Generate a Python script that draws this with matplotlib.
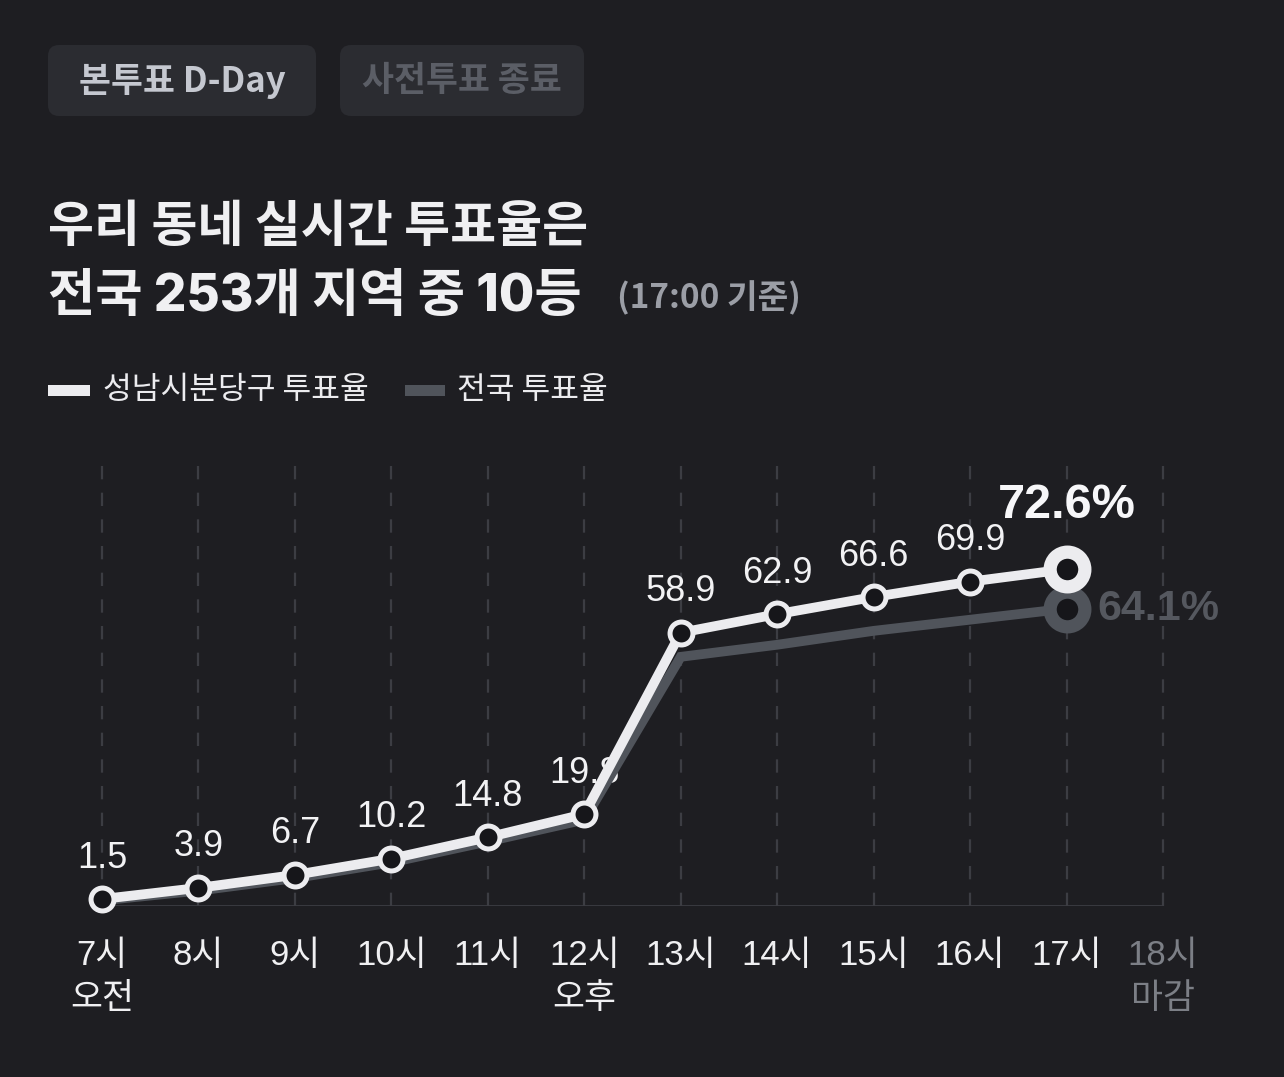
import matplotlib
matplotlib.use("Agg")
import matplotlib.pyplot as plt
import matplotlib.patches as mpatches
from matplotlib.transforms import IdentityTransform

# data
hours = ["7시\n오전", "8시", "9시", "10시", "11시", "12시\n오후", "13시", "14시", "15시", "16시", "17시", "18시\n마감"]
local_rate = [1.5, 3.9, 6.7, 10.2, 14.8, 19.8, 58.9, 62.9, 66.6, 69.9, 72.6]
national_rate = [1.2, 3.3, 6.0, 9.4, 13.9, 18.6, 53.7, 56.3, 59.3, 61.7, 64.1]
local_name = "성남시분당구 투표율"
national_name = "전국 투표율"

BG = "#1e1e22"
BTN = "#2b2c31"
WHITE = "#ececef"
GRAY = "#50545b"
GRID = "#3c3d43"
LAT = ["Liberation Sans", "Noto Sans CJK KR"]
KR = ["Noto Sans CJK KR", "DejaVu Sans"]

W, H = 1284, 1077
fig = plt.figure(figsize=(W / 100, H / 100), dpi=100, facecolor=BG)


def fy(py):
    return 1 - py / H


# buttons on top
for x0, x1, txt, col in [(48, 316, "본투표 D-Day", "#c5c8d0"), (340, 584, "사전투표 종료", "#5b5e66")]:
    box = mpatches.FancyBboxPatch((x0, H - 116), x1 - x0, 71, boxstyle="round,pad=0,rounding_size=11",
                                  transform=IdentityTransform(), facecolor=BTN, edgecolor="none")
    fig.add_artist(box)
    fig.text((x0 + x1) / 2 / W, fy(81), txt, ha="center", va="center", fontsize=25,
             weight="bold", color=col, family=KR)

# title
fig.text(48 / W, fy(227), "우리 동네 실시간 투표율은", ha="left", va="center", fontsize=36,
         weight="bold", color="#f0f0f2", family=KR)
fig.text(48 / W, fy(298), "전국 253개 지역 중 10등", ha="left", va="center", fontsize=37,
         weight="heavy", color="#f0f0f2", family=["Inter", "Noto Sans CJK KR"])
fig.text(617 / W, fy(298), "(17:00 기준)", ha="left", va="center", fontsize=24,
         weight="bold", color="#9b9ea6", family=KR)

# legend
fig.add_artist(mpatches.Rectangle((48, H - 396), 42, 11, transform=IdentityTransform(),
                                  facecolor=WHITE, edgecolor="none"))
fig.text(103 / W, fy(390), local_name, ha="left", va="center", fontsize=22.5, color="#ececef", family=KR)
fig.add_artist(mpatches.Rectangle((405, H - 396), 40, 11, transform=IdentityTransform(),
                                  facecolor=GRAY, edgecolor="none"))
fig.text(457 / W, fy(390), national_name, ha="left", va="center", fontsize=22.5, color="#ececef", family=KR)

# chart
ax = fig.add_axes([102 / W, fy(906), (1163 - 102) / W, (906 - 463) / H])
ax.set_facecolor(BG)
top = 443 / 4.64
ax.set_xlim(0, 11)
ax.set_ylim(0, top)
for s in ax.spines.values():
    s.set_visible(False)
ax.set_yticks([])

xs = list(range(len(hours)))
ax.vlines(xs, 0, top, colors=GRID, linestyles=(0, (6, 6)), linewidth=1.6, zorder=1, clip_on=False)
ax.hlines(0, 0, 11, colors=GRID, linewidth=2, zorder=1)

n = len(local_rate)
px = xs[:n]
ax.plot(px, national_rate, color=GRAY, linewidth=7, solid_joinstyle="miter", zorder=3, clip_on=False)
ax.plot(px[-1], national_rate[-1], "o", markersize=25, markeredgewidth=9.5, markerfacecolor="#16161a",
        markeredgecolor=GRAY, zorder=3.5, clip_on=False)
ax.plot(px, local_rate, color=WHITE, linewidth=7, solid_joinstyle="miter", zorder=4, clip_on=False)
ax.plot(px[:-1], local_rate[:-1], "o", markersize=16.5, markeredgewidth=3.6, markerfacecolor="#16161a",
        markeredgecolor=WHITE, zorder=5, clip_on=False)
ax.plot(px[-1], local_rate[-1], "o", markersize=25, markeredgewidth=9.5, markerfacecolor="#16161a",
        markeredgecolor=WHITE, zorder=5, clip_on=False)

for x, v in zip(px[:-1], local_rate[:-1]):
    ax.annotate(f"{v:.1f}", (x, v), xytext=(0, 29.5), textcoords="offset points", ha="center", va="center",
                fontsize=26, color="#f2f2f4", family=LAT, zorder=2)
ax.annotate(f"{local_rate[-1]:.1f}%", (px[-1], local_rate[-1]), xytext=(0, 46), textcoords="offset points",
            ha="center", va="center", fontsize=35, weight="bold", color="#f7f7f9", family=LAT, zorder=2)
ax.annotate(f"{national_rate[-1]:.1f}%", (px[-1], national_rate[-1]), xytext=(22, 0), textcoords="offset points",
            ha="left", va="center", fontsize=31, weight="bold", color="#55585f", family=LAT, zorder=2)

ax.set_xticks(xs)
ax.set_xticklabels(hours, fontsize=25, color="#f0f0f2", family=LAT, linespacing=1.38)
ax.tick_params(axis="x", length=0, pad=24)
ax.get_xticklabels()[-1].set_color("#7c7f86")

fig.savefig("out.png", dpi=100, facecolor=BG)
